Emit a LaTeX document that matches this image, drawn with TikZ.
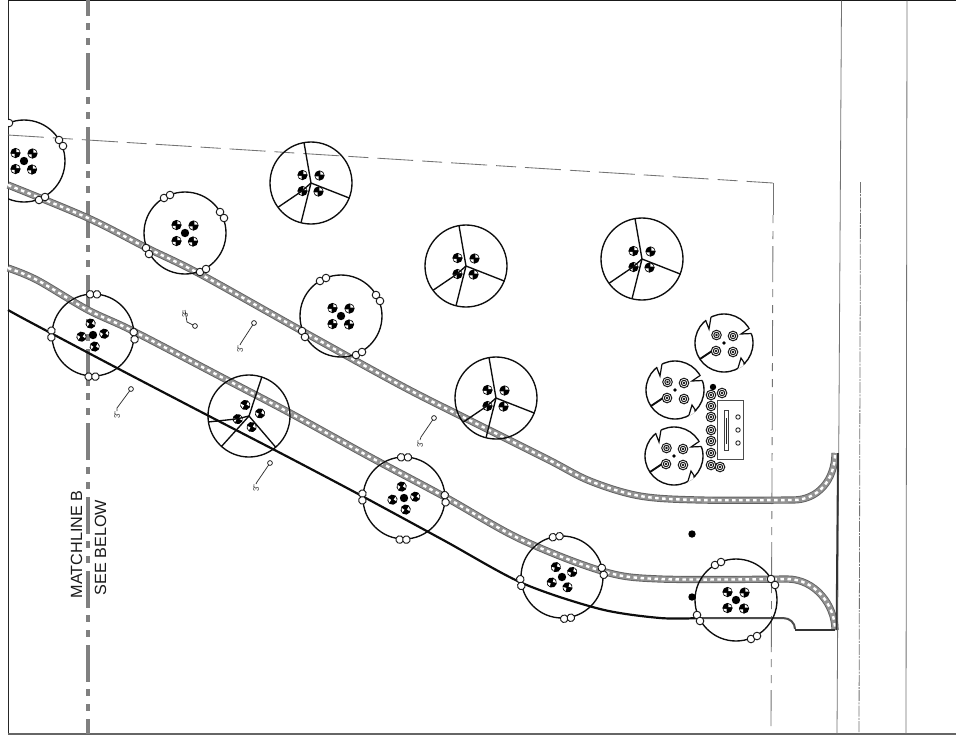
\documentclass[tikz,border=0pt]{standalone}
\usepackage{fontspec}
\setmainfont{Liberation Sans}
\tikzset{
  treeline/.style={draw=black!95,line width=1.35pt},
  tdot/.style={fill=black},
  whitering/.style={draw=black!90,line width=.95pt,fill=white},
  beltbase/.style={draw=black!62,line width=7.2pt},
  beltedge/.style={draw=black!42,line width=5.4pt},
  beltdots/.style={draw=white,line width=2.4pt,dash pattern=on 3.5pt off 3.5pt},
  roughline/.style={draw=black!55,line width=.8pt},
  propline/.style={draw=black!55,line width=.85pt},
  calloutline/.style={draw=black!80,line width=.75pt},
  calloutring/.style={draw=black!85,line width=.8pt,fill=white},
  calloutlabel/.style={font=\fontsize{8}{8}\selectfont,rotate=90,text=black!80,inner sep=0pt},
}
\newcommand{\crosshair}[1]{%
  \begin{scope}[shift={(#1)}]
    \fill[black] (0,0) circle (5.1);
    \fill[white] (.9,-.9) -- (4.1,-.9) -- (3.2,-2.6) -- (.9,-4.1) -- cycle;
    \fill[white] (-.9,.9) -- (-4.1,.9) -- (-3.2,2.6) -- (-.9,4.1) -- cycle;
  \end{scope}}
\newcommand{\treeA}[4]{% x,y,whites rotation,targets rotation
  \begin{scope}[shift={(#1,#2)}]
    \draw[treeline] (0,0) circle (41);
    \begin{scope}[rotate=#4]
      \crosshair{-8.5,-8} \crosshair{8.5,-7.5} \crosshair{-8.5,8} \crosshair{8,8.5}
    \end{scope}
    \fill[tdot] (0,0) circle (4.2);
    \begin{scope}[rotate=#3]
      \foreach \p in {{-21,-35},{-15,-38},{35,-21},{39,-15},{-39,15},{-36,21},{15,39},{21,36}}
        \draw[whitering] (\p) circle (3.8);
    \end{scope}
  \end{scope}}
\newcommand{\treeB}[3]{% x,y,rotation
  \begin{scope}[shift={(#1,#2)},rotate=#3]
    \draw[treeline] (0,0) circle (41);
    \crosshair{-8.5,-8} \crosshair{8.5,-7.5} \crosshair{-8.5,8} \crosshair{7.5,8.5}
    \draw[treeline,line cap=round] (-7,-40.4) -- (0,0) -- (38.2,15);
    \draw[treeline] (0,0) -- (-10,39.8);
    \draw[treeline] (0,0) -- (-9,8) -- (-33,24.3);
  \end{scope}}
\newcommand{\concentric}[1]{%
  \begin{scope}[shift={(#1)}]
    \draw[black!90,line width=1pt,fill=white] (0,0) circle (4.8);
    \draw[black!90,line width=1pt] (0,0) circle (2.7);
    \fill[black!90] (0,0) circle (1.3);
  \end{scope}}
\newcommand{\treeC}[2]{%
  \begin{scope}[shift={(#1,#2)}]
    \draw[treeline] (0,0) circle (29);
    \draw[white,line width=2.5pt] (-18,-23) -- (-13,-26);
    \draw[white,line width=2.5pt] (25,-15) -- (27.5,-9.5);
    \draw[white,line width=2.5pt] (14,25) -- (19,21);
    \draw[black!95,line width=1.2pt,line join=miter] (-18.5,-23) -- (-15,-14) -- (-13,-26);
    \draw[black!95,line width=1.2pt] (25.5,-14.8) -- (17,-9) -- (27.5,-9.5);
    \draw[black!95,line width=1.9pt] (-24,16) -- (-12,8);
    \draw[black!95,line width=1.2pt] (14,25) -- (17,15) -- (21,21);
    \concentric{-7.5,-8} \concentric{9,-7} \concentric{-8,8} \concentric{9,9}
    \fill[tdot] (0,0) circle (1.8);
  \end{scope}}
\newcommand{\callout}[7]{% ring x,y; knee x,y; text x,y; name
  \node[calloutlabel] (#7) at (#5,#6) {3"};
  \coordinate (#7k) at (#3,#4);
  \coordinate (#7r) at (#1,#2);
  \draw[calloutline] (#7r) -- (#7k) -- (#5,#6-4);
  \draw[calloutring] (#7r) circle (2.4);}
\begin{document}
\begin{tikzpicture}[x=1pt,y=-1pt]
\useasboundingbox (0,0) rectangle (956,740);
\fill[white] (0,0) rectangle (956,740);
% sheet frame
\draw[black!90,line width=1pt] (8,0.6) -- (956,0.6);
\draw[black!85,line width=1pt] (8,0.6) -- (8,734);
\draw[black!60,line width=1.2pt] (8,734) -- (956,734);
% right-hand rough lines
\draw[roughline] (841.5,0.6) -- (837,734);
\draw[roughline] (907,0.6) -- (906,734);
\draw[black!55,line width=.8pt,dash pattern=on 11pt off 1.2pt on 2pt off 1.2pt] (860.5,182) -- (859,734);
% property line
\draw[propline,dash pattern=on 36pt off 9pt on 20pt off 9pt] (8,135) -- (773,183);
\draw[propline] (773,183) -- (773,215);
\draw[propline,dash pattern=on 8pt off 8pt on 8pt off 7pt on 36pt off 7pt,dash phase=0pt] (773,215) -- (771,728);
% matchline
\draw[black!50,line width=4pt,dash pattern=on 37pt off 7pt on 7pt off 8pt on 7pt off 8pt,dash phase=21pt] (88,0) -- (88,734);
% belts
\newcommand{\beltOne}{plot[smooth,tension=.55] coordinates {(8,185) (88,218) (147,248) (200,274) (302,331) (400,385) (463,417) (547,459) (590,481) (640,496) (700,500) (793,500)} .. controls (818,500) and (835,480) .. (835,453)}
\newcommand{\beltTwo}{plot[smooth,tension=.55] coordinates {(8,268) (37,280) (88,310) (133,331) (227,380) (290,413) (370,457) (445,497) (520,539) (602,571) (660,579) (787,579)} .. controls (815,579) and (835,605) .. (835,630)}
\draw[beltbase] \beltOne; \draw[beltedge] \beltOne; \draw[beltdots] \beltOne;
\draw[beltbase] \beltTwo; \draw[beltedge] \beltTwo; \draw[beltdots] \beltTwo;
% edge line and drive
\draw[black!95,line width=2.2pt] plot[smooth,tension=.5] coordinates {(8,310) (30,322) (117,368) (207,415) (290,458) (362,496) (445,541) (522,583) (600,609) (660,618) (700,618)};
\draw[black!70,line width=2pt] (700,618) -- (783,618) .. controls (790,618) and (795,623) .. (795,629);
\draw[black!80,line width=1.7pt] (795,630) -- (835,630);
\draw[black!80,line width=1.8pt] (838,453) -- (836.5,630);
% trees
\begin{scope}
\clip (8,0) rectangle (956,734);
\treeA{24}{161}{0}{0}
\treeA{185}{233}{0}{0}
\treeA{93}{335}{-27}{-35}
\treeA{341}{316}{0}{0}
\treeA{404}{498}{-27}{-35}
\treeA{562}{577}{-18}{-15}
\treeA{736}{600}{0}{0}
\treeB{311}{183}{0}
\treeB{466}{266}{0}
\treeB{642}{259}{0}
\treeB{496}{398}{0}
\treeB{249}{416}{-28}
\treeC{724}{343}
\treeC{675}{390}
\treeC{674}{456}
\end{scope}
% equipment
\foreach \y in {395,406,417,430,441,453,465} {\concentric{711,\y}}
\concentric{722,393}
\concentric{720,467}
\fill[tdot] (713,387) circle (3.2);
\draw[black!70,line width=.9pt] (717,400) rectangle (743,459);
\draw[black!75,line width=.8pt] (724,410) rectangle (728,450);
\draw[black!85,line width=1.8pt] (726.5,418) -- (726.5,444);
\foreach \y in {417,430,443} {\draw[black!85,line width=.9pt] (738,\y) circle (2.2);}
\fill[tdot] (692,534) circle (3.7);
\fill[tdot] (692,597) circle (3.7);
% callouts
\callout{131}{389}{117}{408}{117}{415}{ca}
\callout{195}{326}{187}{322}{185}{314}{cb}
\callout{254}{323}{241}{343}{240}{349}{cc}
\callout{270}{463}{257}{482}{256}{488}{cd}
\callout{434}{418}{421}{437}{420}{444}{ce}
% labels
\node[rotate=90,font=\fontsize{16.2}{16.2}\selectfont,text=black!90,inner sep=0pt] (mb) at (76.5,544.5) {MATCHLINE B};
\node[rotate=90,font=\fontsize{16.2}{16.2}\selectfont,text=black!90,inner sep=0pt] (sb) at (100.5,547.5) {SEE BELOW};
\end{tikzpicture}
\end{document}
